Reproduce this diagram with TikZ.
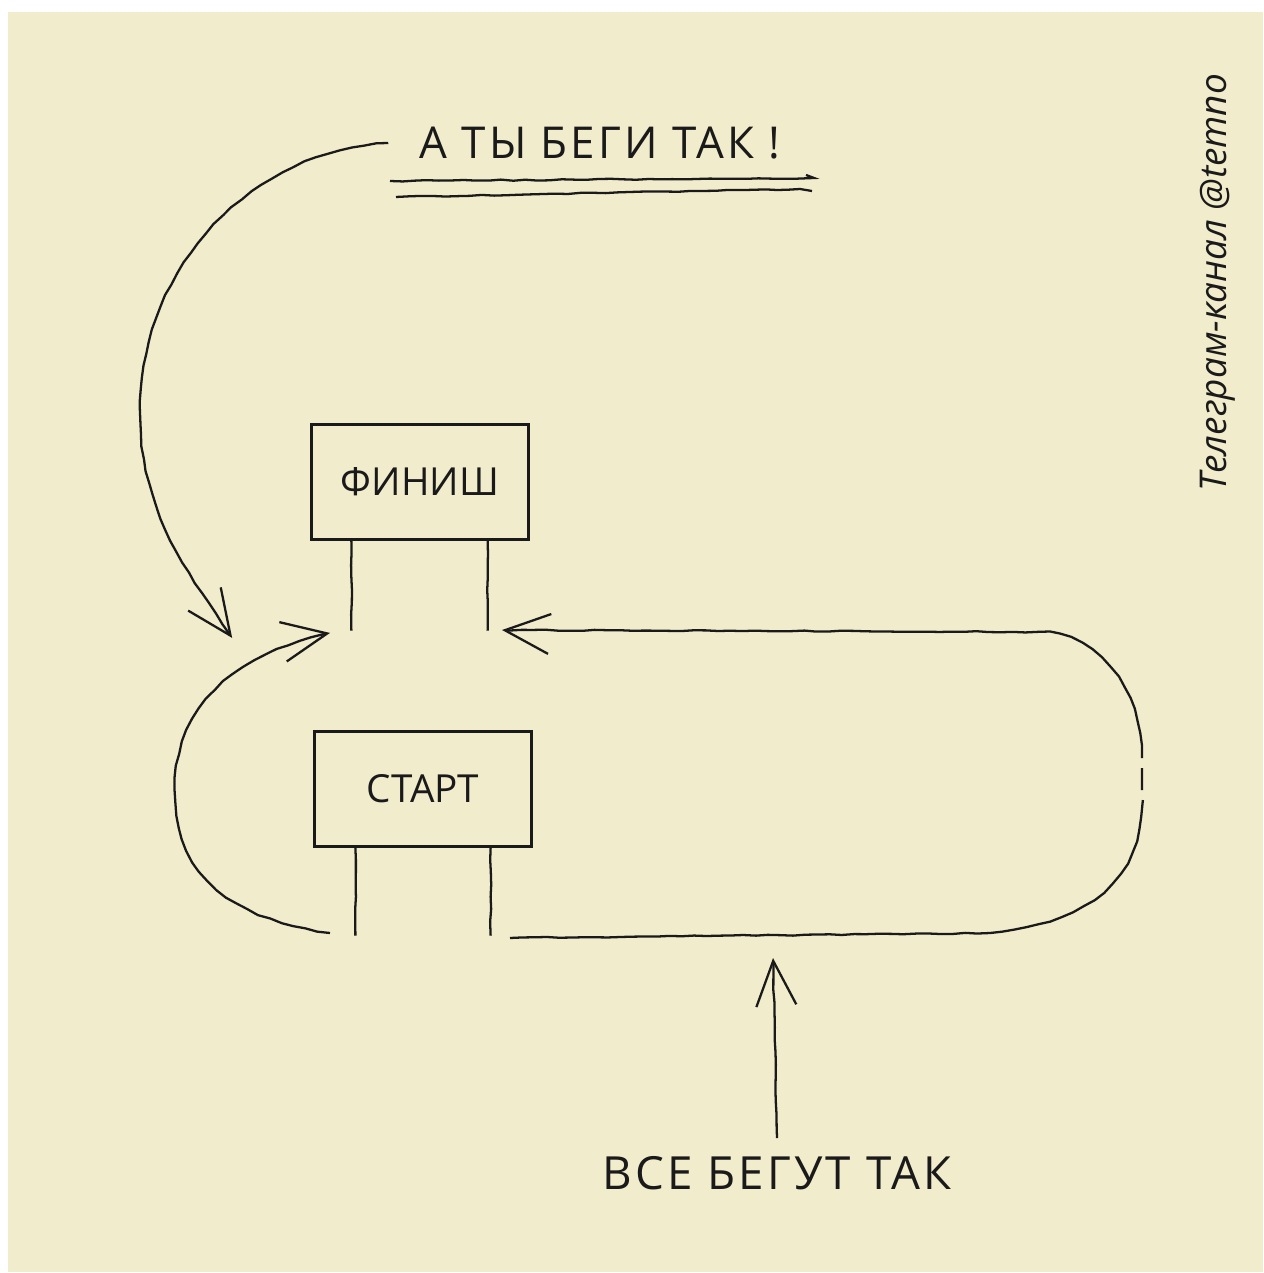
\documentclass[tikz,border=0pt]{standalone}
\usepackage{fontspec}
\setmainfont{Open Sans}
\usetikzlibrary{arrows.meta, positioning, decorations.pathmorphing}
\definecolor{cpaper}{HTML}{F1ECCB}
\definecolor{cink}{HTML}{1A1A1A}
\tikzset{
  every picture/.style={line width=1.3pt},
  hand/.style={draw=cink, decorate, decoration={random steps, segment length=7pt, amplitude=0.35pt}},
  sign/.style={draw=cink, minimum width=4.34cm, minimum height=2.3cm, font=\fontsize{22}{26}\selectfont, text=cink},
  scrawl/.style={font=\fontsize{#1}{#1}\selectfont\addfontfeature{LetterSpace=7}, text=cink},
  barb/.style={-{Straight Barb[length=0.9cm, width=0.8cm]}},
  watermark/.style={font=\itshape\fontsize{21}{24}\selectfont, text=cink},
}

\begin{document}
\pgfmathsetseed{7}
\begin{tikzpicture}[x=0.02cm, y=-0.02cm]
  \useasboundingbox (0,0) rectangle (1263,1273);
  \fill[white] (0,0) rectangle (1263,1273);
  \fill[cpaper] (8,12) rectangle (1263,1272);
  % the two gates
  \node[sign] (finish) at (420,482) {ФИНИШ};
  \node[sign] (start) at (423,789) {СТАРТ};
  \draw[hand] ([xshift=0.82cm]finish.south west) -- ++(0,90);
  \draw[hand] ([xshift=-0.84cm]finish.south east) -- ++(0,90);
  \draw[hand] ([xshift=0.84cm]start.south west) -- ++(0,88);
  \draw[hand] ([xshift=-0.84cm]start.south east) -- ++(0,88);
  % texts
  \node[scrawl=25, inner xsep=0.6cm] (advice) at (600,143) {А ТЫ БЕГИ ТАК !};
  \node[scrawl=26, inner ysep=0.34cm] (crowd) at (777,1173) {ВСЕ БЕГУТ ТАК};
  \node[watermark, rotate=90] (channel) at (1218,283) {Телеграм-канал @temno};
  \draw[hand] (390,181) -- (814,178) -- (806,175);
  \draw[hand] (396,197) -- (800,189) -- (812,191);
  % the short way
  \coordinate (gateL) at (232,638);
  \draw[hand, barb] (advice.west) .. controls (250,150) and (140,270) .. (140,410)
    .. controls (140,520) and (195,580) .. (gateL);
  % the long way round
  \coordinate (loopL) at (330,633);
  \coordinate (loopB) at (330,933);
  \coordinate (trackB) at (510,938);
  \coordinate (gateR) at (502,630);
  \draw[hand, barb] (loopB) .. controls (210,915) and (175,860) .. (175,790)
    .. controls (175,710) and (230,655) .. (loopL);
  \draw[hand] (trackB) -- (990,933) .. controls (1100,922) and (1142,870) .. (1142,800);
  \draw[hand] (1142,790) -- (1142,768);
  \draw[hand, barb] (1142,758) .. controls (1142,690) and (1100,640) .. (1050,632) -- (gateR);
  \coordinate (trackM) at (773,958);
  \draw[hand, barb] (crowd.north) -- (trackM);
\end{tikzpicture}
\end{document}
